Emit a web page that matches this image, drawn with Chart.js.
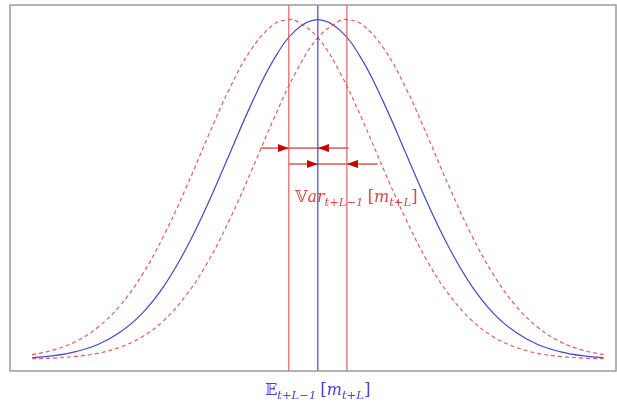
<!DOCTYPE html>
<html>
<head>
<meta charset="utf-8">
<script src="https://cdn.jsdelivr.net/npm/chart.js@4.4.1/dist/chart.umd.min.js"></script>
<style>
  html, body { margin: 0; padding: 0; background: #fff; overflow: hidden; }
  #wrap { width: 617px; height: 403px; }
</style>
</head>
<body>
<div id="wrap"><canvas id="myChart"></canvas></div>
<script>
// x in units of one standard deviation, 0 = expected value
let gridX = [-3.25, -3, -2.75, -2.5, -2.25, -2, -1.75, -1.5, -1.25, -1, -0.75, -0.5, -0.25, 0,
    0.25, 0.5, 0.75, 1, 1.25, 1.5, 1.75, 2, 2.25, 2.5, 2.75, 3, 3.25];

let centreDensity = [0.005, 0.011, 0.023, 0.044, 0.080, 0.135, 0.216, 0.325, 0.458, 0.607, 0.755, 0.883, 0.969, 1,
    0.969, 0.883, 0.755, 0.607, 0.458, 0.325, 0.216, 0.135, 0.080, 0.044, 0.023, 0.011, 0.005];

let leftX = [-3.25, -3, -2.75, -2.5, -2.25, -2, -1.75, -1.5, -1.25, -1, -0.75, -0.5, -0.33, -0.25, 0,
    0.25, 0.5, 0.75, 1, 1.25, 1.5, 1.75, 2, 2.25, 2.5, 2.75, 3, 3.25];
let leftDensity = [0.014, 0.028, 0.053, 0.095, 0.158, 0.248, 0.365, 0.504, 0.655, 0.799, 0.915, 0.986, 1, 0.997, 0.947,
    0.845, 0.709, 0.558, 0.413, 0.287, 0.188, 0.115, 0.066, 0.036, 0.018, 0.009, 0.004, 0.002];

let rightX = [-3.25, -3, -2.75, -2.5, -2.25, -2, -1.75, -1.5, -1.25, -1, -0.75, -0.5, -0.25, 0,
    0.25, 0.33, 0.5, 0.75, 1, 1.25, 1.5, 1.75, 2, 2.25, 2.5, 2.75, 3, 3.25];
let rightDensity = [0.002, 0.004, 0.009, 0.018, 0.036, 0.066, 0.115, 0.188, 0.287, 0.413, 0.558, 0.709, 0.845, 0.947,
    0.997, 1, 0.986, 0.915, 0.799, 0.655, 0.504, 0.365, 0.248, 0.158, 0.095, 0.053, 0.028, 0.014];

let meanX = 0;
let shiftedMeans = [-0.33, 0.33];

// arrows: [from, to] and height
let upperArrow = [-0.65, 0.35];
let lowerArrow = [-0.33, 0.68];
let upperY = 0.622;
let lowerY = 0.575;

let xMin = -3.5, xMax = 3.39, yMin = -0.034, yMax = 1.043;

const blue = 'rgb(70, 70, 205)';
const lightRed = 'rgb(225, 95, 95)';
const darkRed = 'rgb(200, 0, 0)';

function toPoints(xs, ys) {
    let pts = [];
    for (let i = 0; i < xs.length; i++) {
        pts.push({ x: xs[i], y: ys[i] });
    }
    return pts;
}

function vertical(x) {
    return [{ x: x, y: yMin }, { x: x, y: yMax }];
}

function arrowHead() {
    const c = document.createElement('canvas');
    c.width = 11;
    c.height = 8;
    const g = c.getContext('2d');
    g.fillStyle = darkRed;
    g.beginPath();
    g.moveTo(0, 0);
    g.lineTo(11, 4);
    g.lineTo(0, 8);
    g.closePath();
    g.fill();
    return c;
}

const head = arrowHead();
const half = 0.0625; // half an arrow head in x units

function lineSet(data, color, width, dash) {
    return {
        data: data,
        borderColor: color,
        borderWidth: width,
        borderDash: dash || [],
        pointRadius: 0,
        showLine: true,
        tension: 0.4,
        fill: false,
    };
}

const frame = {
    id: 'frame',
    afterDraw(chart) {
        const { ctx, chartArea } = chart;
        ctx.save();
        ctx.strokeStyle = '#9a9a9a';
        ctx.lineWidth = 1.5;
        ctx.strokeRect(chartArea.left, chartArea.top, chartArea.right - chartArea.left, chartArea.bottom - chartArea.top);
        ctx.restore();
    }
};

function drawMath(ctx, parts, x, y, color) {
    ctx.fillStyle = color;
    ctx.textBaseline = 'alphabetic';
    ctx.textAlign = 'left';
    let cx = x;
    for (const p of parts) {
        ctx.font = (p.italic ? 'italic ' : '') + p.size + 'px "DejaVu Serif", "Liberation Serif", serif';
        ctx.fillText(p.t, cx, y + (p.dy || 0));
        cx += ctx.measureText(p.t).width + (p.gap || 0);
    }
    return cx - x;
}

function measureMath(ctx, parts) {
    let w = 0;
    for (const p of parts) {
        ctx.font = (p.italic ? 'italic ' : '') + p.size + 'px "DejaVu Serif", "Liberation Serif", serif';
        w += ctx.measureText(p.t).width + (p.gap || 0);
    }
    return w;
}

const labels = {
    id: 'labels',
    afterDraw(chart) {
        const ctx = chart.ctx;
        const xs = chart.scales.x, ys = chart.scales.y;
        ctx.save();
        const varParts = [
            { t: '\u{1D54D}', size: 16 },
            { t: 'ar', size: 16, italic: true },
            { t: 't+L\u22121', size: 11.5, italic: true, dy: 4, gap: 4 },
            { t: '[', size: 17 },
            { t: 'm', size: 16, italic: true },
            { t: 't+L', size: 11.5, italic: true, dy: 4 },
            { t: ']', size: 17 },
        ];
        drawMath(ctx, varParts, xs.getPixelForValue(-0.26), ys.getPixelForValue(0.463), 'rgb(225, 70, 70)');

        const eParts = [
            { t: '\u{1D53C}', size: 16 },
            { t: 't+L\u22121', size: 11.5, italic: true, dy: 4, gap: 4 },
            { t: '[', size: 17 },
            { t: 'm', size: 16, italic: true },
            { t: 't+L', size: 11.5, italic: true, dy: 4 },
            { t: ']', size: 17 },
        ];
        const w = measureMath(ctx, eParts);
        drawMath(ctx, eParts, xs.getPixelForValue(meanX) - w / 2, 395, 'rgb(70, 70, 210)');
        ctx.restore();
    }
};

const ctx = document.getElementById('myChart');

new Chart(ctx, {
    type: 'scatter',
    data: {
        datasets: [
            lineSet(vertical(shiftedMeans[0]), lightRed, 1.2),
            lineSet(vertical(shiftedMeans[1]), lightRed, 1.2),
            lineSet(vertical(meanX), blue, 1.2),
            lineSet(toPoints(leftX, leftDensity), lightRed, 1.2, [4, 3]),
            lineSet(toPoints(rightX, rightDensity), lightRed, 1.2, [4, 3]),
            lineSet(toPoints(gridX, centreDensity), blue, 1.2),
            lineSet([{ x: upperArrow[0], y: upperY }, { x: upperArrow[1], y: upperY }], darkRed, 1),
            lineSet([{ x: lowerArrow[0], y: lowerY }, { x: lowerArrow[1], y: lowerY }], darkRed, 1),
            {
                data: [
                    { x: shiftedMeans[0] - half, y: upperY },
                    { x: meanX + half, y: upperY },
                    { x: meanX - half, y: lowerY },
                    { x: shiftedMeans[1] + half, y: lowerY },
                ],
                pointStyle: head,
                rotation: [0, 180, 0, 180],
                pointRadius: 6,
                showLine: false,
            },
        ]
    },
    options: {
        responsive: true,
        maintainAspectRatio: false,
        animation: false,
        layout: { autoPadding: false, padding: { left: 10, right: 1, top: 5, bottom: 32 } },
        scales: {
            x: {
                type: 'linear',
                min: xMin,
                max: xMax,
                display: false,
            },
            y: {
                type: 'linear',
                min: yMin,
                max: yMax,
                display: false,
            }
        },
        plugins: {
            legend: { display: false },
            tooltip: { enabled: false },
        }
    },
    plugins: [frame, labels]
});
</script>
</body>
</html>
